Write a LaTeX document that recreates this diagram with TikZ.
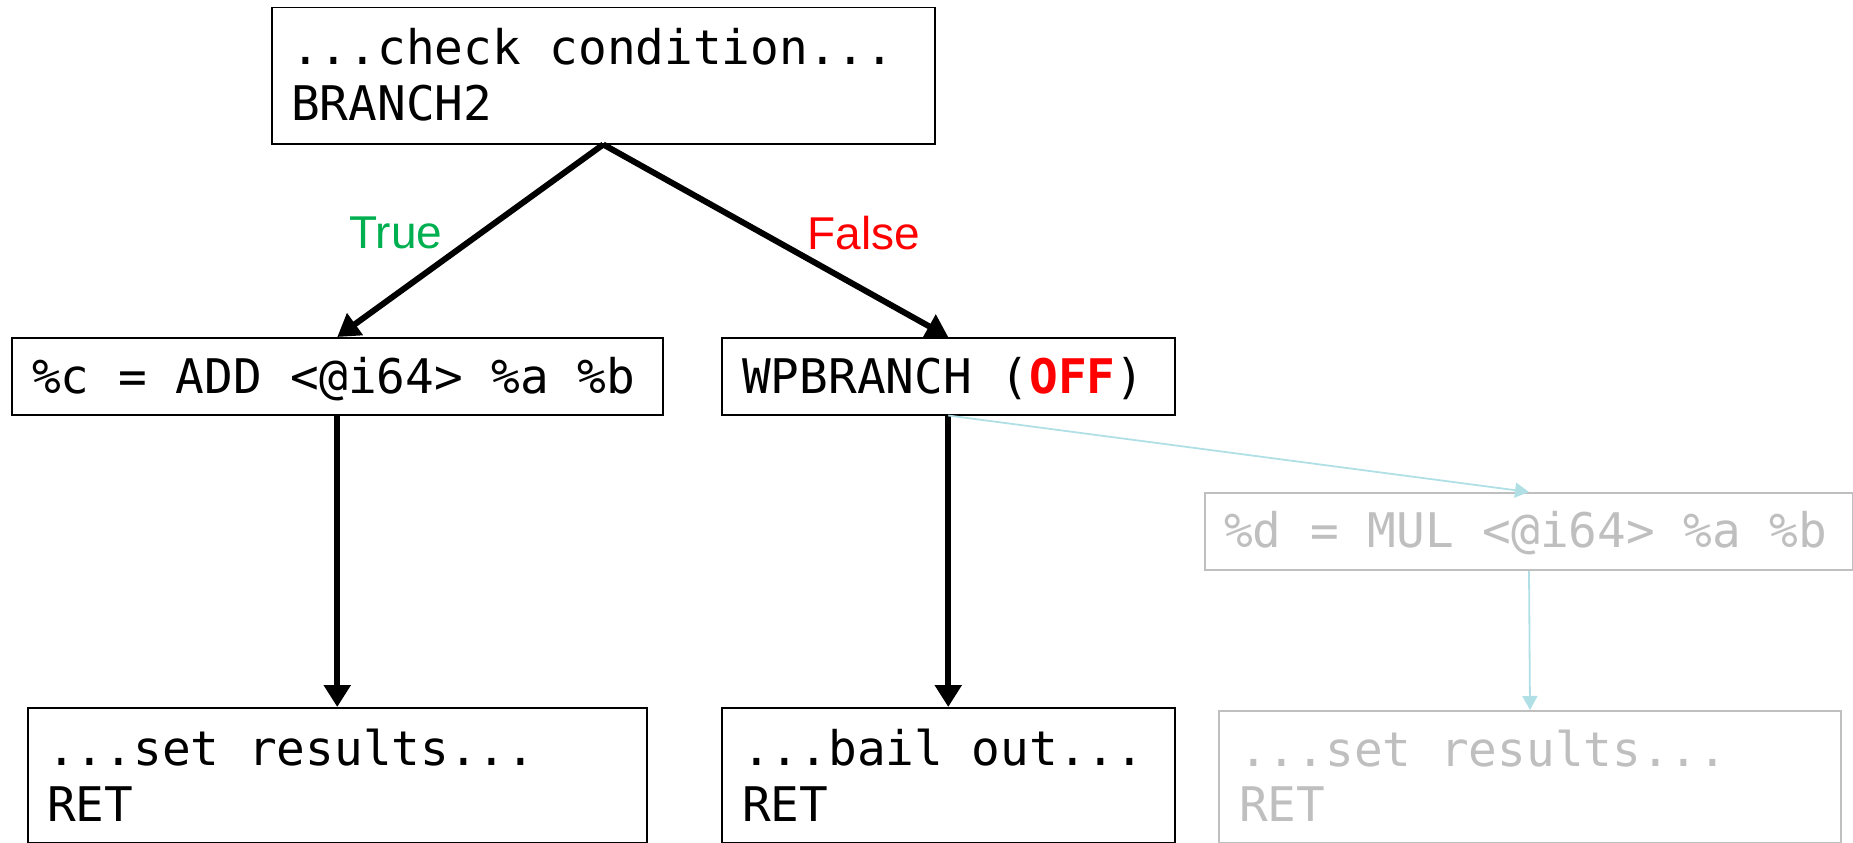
\documentclass[tikz,border=0pt]{standalone}
\usepackage{fontspec}
\setmonofont{DejaVu Sans Mono}
\newfontfamily\labelfont{Liberation Sans}
\usetikzlibrary{arrows.meta}
\definecolor{truegreen}{RGB}{0,176,80}
\definecolor{offred}{RGB}{255,0,0}
\definecolor{ghost}{RGB}{191,191,191}
\definecolor{paleblue}{RGB}{176,224,230}
\begin{document}
\begin{tikzpicture}[x=1pt,y=-1pt,
  box/.style={draw=black,line width=1.5pt,rectangle,inner sep=0pt,anchor=north west},
  ghostbox/.style={box,draw=ghost,line width=2pt},
  code/.style={anchor=base west,inner sep=0pt,font=\ttfamily\fontsize{47.7}{55.5}\selectfont},
  ghostcode/.style={code,text=ghost},
  lbl/.style={anchor=center,inner sep=0pt,font=\labelfont\fontsize{46}{50}\selectfont},
  flow/.style={line width=6pt,-{Triangle[length=22pt,width=26pt]}},
  faint/.style={draw=paleblue,line width=1.8pt,-{Triangle[length=14pt,width=15pt]}}
]
\useasboundingbox (0,0) rectangle (1853,843);
% boxes
\node[box,minimum width=663pt,minimum height=136pt] (top) at (271,7) {};
\node[box,minimum width=651pt,minimum height=77pt] (add) at (11,337) {};
\node[box,minimum width=453pt,minimum height=77pt] (wp) at (721,337) {};
\node[ghostbox,minimum width=648pt,minimum height=77pt] (mul) at (1204,492) {};
\node[box,minimum width=619pt,minimum height=135pt] (resA) at (27,707) {};
\node[box,minimum width=453pt,minimum height=135pt] (bail) at (721,707) {};
\node[ghostbox,minimum width=622pt,minimum height=132pt] (resB) at (1218,710) {};
% texts
\node[code] (topt1) at (291,65) {...check condition...};
\node[code] (topt2) at (291,120.5) {BRANCH2};
\node[code] (addt) at (32,393.5) {\%c = ADD <@i64> \%a \%b};
\node[code] (wpt) at (742,393.5) {WPBRANCH (\textcolor{offred}{\bfseries OFF})};
\node[ghostcode] (mult) at (1224,547) {\%d = MUL <@i64> \%a \%b};
\node[code] (resAt1) at (47,765) {...set results...};
\node[code] (resAt2) at (47,821) {RET};
\node[code] (bailt1) at (742,765) {...bail out...};
\node[code] (bailt2) at (742,821) {RET};
\node[ghostcode] (resBt1) at (1239,766) {...set results...};
\node[ghostcode] (resBt2) at (1239,821) {RET};
% labels
\node[lbl,text=truegreen] (truel) at (396,233) {True};
\node[lbl,text=offred] (falsel) at (864,233) {False};
% connectors
\draw[flow] (top.south) -- (add.north);
\draw[flow] (top.south) -- (wp.north);
\draw[flow] (add.south) -- (resA.north);
\draw[flow] (wp.south) -- (bail.north);
\draw[faint] (wp.south) -- (mul.north);
\draw[faint] (mul.south) -- (resB.north);
\end{tikzpicture}
\end{document}
